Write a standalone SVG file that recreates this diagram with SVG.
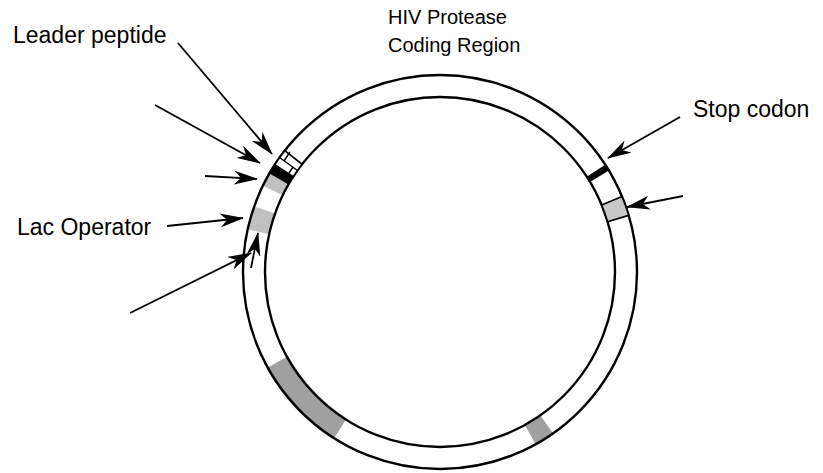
<svg xmlns="http://www.w3.org/2000/svg" width="823" height="473" viewBox="0 0 823 473">
<defs>
<style>
.lbl{font-family:"Liberation Sans",Arial,sans-serif;font-size:23px;fill:#000}
.hd{font-family:"Liberation Sans",Arial,sans-serif;font-size:20px;fill:#000}
.ring{fill:none;stroke:#000;stroke-width:2.4}
.arr{fill:none;stroke:#000;stroke-width:1.8;marker-end:url(#ah)}
.thin{fill:none;stroke:#000;stroke-width:1.4}
</style>
<marker id="ah" markerUnits="userSpaceOnUse" markerWidth="24" markerHeight="14" refX="23" refY="7" orient="auto">
<path d="M0,0 L24,7 L0,14 L7,7 Z" fill="#000"/>
</marker>
</defs>
<rect width="823" height="473" fill="#fff"/>
<g id="plasmid">
<path d="M333.35,439.41 A198.5,198.5 0 0 1 266.39,368.23 L288.26,356.11 A173.5,173.5 0 0 0 346.78,418.33 Z" fill="#a0a0a0"/>
<path d="M553.86,434.61 A198.5,198.5 0 0 1 536.23,445.61 L524.11,423.74 A173.5,173.5 0 0 0 539.52,414.13 Z" fill="#a0a0a0"/>
</g>
<g id="lac-operator-band">
<path d="M247.67,229.37 A197,197 0 0 1 254.31,206.24 L275.04,213.58 A175,175 0 0 0 269.15,234.13 Z" fill="#c0c0c0"/>
</g>
<g id="promoter-band">
<path d="M262.94,185.64 A197,197 0 0 1 269.4,173.5 L288.45,184.5 A175,175 0 0 0 282.71,195.28 Z" fill="#c0c0c0"/>
</g>
<circle class="ring" cx="440" cy="272" r="197"/>
<circle class="ring" cx="440" cy="272" r="175"/>
<g id="leader-peptide">
<path d="M269.4,173.5 A198,198 0 0 1 274,165 L293.23,176.69 A174,174 0 0 0 288.45,184.5 Z" fill="#000"/>
<path d="M274.78,164.71 A197,197 0 0 1 284.76,150.71 L302.1,164.25 A175,175 0 0 0 293.23,176.69 Z" fill="#fff" stroke="#000" stroke-width="1.6"/>
<path class="thin" d="M279.5,157.5 L297.5,170.5 M284,161 L290,152 M293,167 L287,176"/>
</g>
<g id="stop-codon">
<path d="M606.06,164.17 A198,198 0 0 1 609.73,170.03 L589.15,182.39 A174,174 0 0 0 585.93,177.24 Z" fill="#000"/>
</g>
<g id="gray-box">
<path d="M622.0,196.61 A197,197 0 0 1 628.69,215.38 L607.62,221.70 A175,175 0 0 0 601.68,205.03 Z" fill="#c8c8c8" stroke="#000" stroke-width="1.6"/>
</g>
<g id="connectors">
<line class="arr" x1="178" y1="43" x2="272" y2="154"/>
<line class="arr" x1="155" y1="105" x2="260" y2="163"/>
<line class="arr" x1="205" y1="176" x2="257" y2="179"/>
<line class="arr" x1="167" y1="226" x2="243" y2="218"/>
<line class="arr" x1="130" y1="313" x2="251" y2="253"/>
<line class="arr" x1="251" y1="268" x2="258" y2="233"/>
<line class="arr" x1="680" y1="117" x2="608" y2="158"/>
<line class="arr" x1="683" y1="196" x2="627" y2="207"/>
</g>
<g id="labels">
<text class="lbl" x="13" y="43">Leader peptide</text>
<text class="hd" x="388" y="24">HIV Protease</text>
<text class="hd" x="388" y="52">Coding Region</text>
<text class="lbl" x="693" y="117">Stop codon</text>
<text class="lbl" x="17" y="235">Lac Operator</text>
</g>
</svg>
